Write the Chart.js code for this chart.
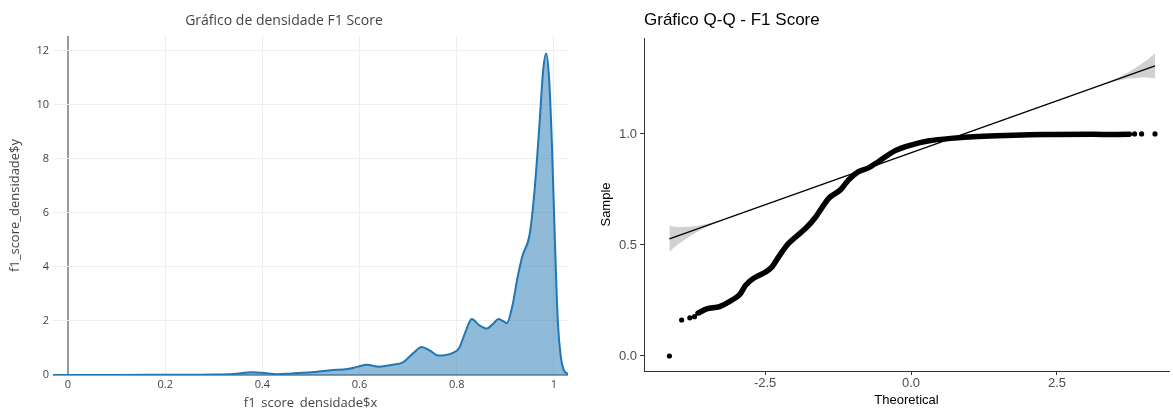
<!DOCTYPE html>
<html><head><meta charset="utf-8">
<script src="https://cdn.jsdelivr.net/npm/chart.js@4.4.1/dist/chart.umd.min.js"></script>
<style>
html,body{margin:0;padding:0;background:#fff;overflow:hidden;width:1173px;height:408px;}
#c1{position:absolute;left:0;top:0;}
#c2{position:absolute;left:590px;top:0;}
</style></head><body>
<canvas id="c1" width="578" height="420"></canvas>
<canvas id="c2" width="583" height="408"></canvas>
<script>
// ---- Left: density plot ----
const densTitle = 'Gráfico de densidade F1 Score';
const densXTitle = 'f1_score_densidade$x';
const densYTitle = 'f1_score_densidade$y';
const densX = [-0.0309, 0, 0.1, 0.2, 0.3, 0.34, 0.38, 0.40, 0.43, 0.46, 0.50, 0.54, 0.575, 0.595, 0.615, 0.64, 0.665, 0.69, 0.71, 0.728, 0.745, 0.762, 0.792, 0.805, 0.818, 0.831, 0.846, 0.862, 0.875, 0.886, 0.895, 0.903, 0.915, 0.925, 0.935, 0.95, 0.96, 0.97, 0.978, 0.984, 0.99, 0.996, 1.002, 1.008, 1.014, 1.02, 1.029];
const densY = [0.0, 0.0, 0.0, 0.01, 0.02, 0.04, 0.1, 0.08, 0.03, 0.06, 0.1, 0.18, 0.22, 0.3, 0.38, 0.31, 0.37, 0.48, 0.8, 1.04, 0.9, 0.72, 0.82, 1.0, 1.6, 2.07, 1.85, 1.72, 1.9, 2.07, 2.0, 1.92, 2.6, 3.6, 4.4, 5.2, 6.8, 9.2, 11.3, 11.9, 11.0, 8.5, 5.0, 2.0, 0.7, 0.2, 0.03];
const densXTicks = [0, 0.2, 0.4, 0.6, 0.8, 1];
const densYTicks = [0, 2, 4, 6, 8, 10, 12];

// ---- Right: Q-Q plot ----
const qqTitle = 'Gráfico Q-Q - F1 Score';
const qqXTitle = 'Theoretical';
const qqYTitle = 'Sample';
const qqT = [-3.65, -3.5, -3.28, -3.11, -2.94, -2.83, -2.69, -2.48, -2.38, -2.26, -2.09, -1.80, -1.63, -1.41, -1.21, -1.07, -0.90, -0.73, -0.56, -0.27, 0.0, 0.29, 0.68, 1.14, 2.28, 3.74];
const qqS = [0.193, 0.212, 0.222, 0.245, 0.275, 0.32, 0.351, 0.38, 0.402, 0.45, 0.509, 0.576, 0.627, 0.71, 0.748, 0.793, 0.83, 0.847, 0.875, 0.925, 0.95, 0.968, 0.98, 0.988, 0.997, 0.998];
const tailT = [-4.14, -3.93, -3.79, -3.71, 3.83, 3.95, 4.18];
const tailS = [0.0, 0.162, 0.172, 0.177, 1.0, 1.0, 1.0];
const refT = [-4.14, 4.18];
const refS = [0.5275, 1.3063];
const bandT  = [-4.14, -4.0, -3.85, -3.65, -3.4, -3.15, 3.2, 3.45, 3.7, 3.9, 4.05, 4.18];
const bandHi = [0.5865, 0.5806, 0.5816, 0.5864, 0.6008, 0.6202, 1.2145, 1.2419, 1.2743, 1.3070, 1.3341, 1.3633];
const bandLo = [0.4685, 0.5006, 0.5276, 0.5604, 0.5928, 0.6202, 1.2145, 1.2339, 1.2483, 1.2530, 1.2541, 1.2493];
const qqXTicks = [-2.5, 0, 2.5];
const qqYTicks = [0, 0.5, 1.0];

const pts = (xs, ys) => xs.map((x, i) => ({x, y: ys[i]}));

new Chart(document.getElementById('c1'), {
  type: 'line',
  data: { datasets: [{
    data: pts(densX, densY),
    borderColor: '#1f77b4', borderWidth: 2,
    backgroundColor: 'rgba(31,119,180,0.5)', fill: 'origin',
    pointRadius: 0, tension: 0.4, cubicInterpolationMode: 'monotone'
  }]},
  options: {
    responsive: false, animation: false, devicePixelRatio: 1,
    layout: { padding: { left: 0, right: 10, top: 0, bottom: 0 } },
    plugins: {
      legend: { display: false }, tooltip: { enabled: false },
      title: { display: true, text: densTitle, color: '#444',
        font: { family: 'Open Sans', size: 14, weight: 'normal' },
        padding: { top: 13, bottom: 6.2 } }
    },
    scales: {
      x: { type: 'linear', min: -0.0309, max: 1.029,
        afterFit: s => { s.height = 45; },
        afterBuildTicks: s => { s.ticks = densXTicks.map(v => ({ value: v })); },
        grid: { color: c => (c.tick && c.tick.value === 0) ? '#999' : '#eee',
                lineWidth: c => (c.tick && c.tick.value === 0) ? 2 : 1, drawTicks: false },
        border: { display: false },
        ticks: { color: '#444', font: { family: 'Open Sans', size: 11 }, padding: 3, maxRotation: 0,
                 callback: v => String(+(+v).toFixed(2)) },
        title: { display: true, text: densXTitle, color: '#444',
                 font: { family: 'Open Sans', size: 13 }, padding: { top: 0, bottom: 9 } }
      },
      y: { type: 'linear', min: 0, max: 12.55,
        afterFit: s => { s.width = 53; },
        afterBuildTicks: s => { s.ticks = densYTicks.map(v => ({ value: v })); },
        grid: { color: c => (c.tick && c.tick.value === 0) ? '#999' : '#eee',
                lineWidth: c => (c.tick && c.tick.value === 0) ? 2 : 1, drawTicks: false },
        border: { display: false },
        ticks: { color: '#444', font: { family: 'Open Sans', size: 11 }, padding: 4,
                 callback: v => String(+(+v).toFixed(2)) },
        title: { display: true, text: densYTitle, color: '#444',
                 font: { family: 'Open Sans', size: 13 }, padding: { top: 7, bottom: 0 } }
      }
    }
  }
});

const axisFont = { family: 'Liberation Sans', size: 13 };
new Chart(document.getElementById('c2'), {
  type: 'scatter',
  data: { datasets: [
    { type: 'line', data: pts(bandT, bandHi), fill: '+1', backgroundColor: 'rgba(153,153,153,0.45)',
      borderColor: 'transparent', borderWidth: 0, pointRadius: 0, tension: 0.3, order: 3 },
    { type: 'line', data: pts(bandT, bandLo), fill: false,
      borderColor: 'transparent', borderWidth: 0, pointRadius: 0, tension: 0.3, order: 3 },
    { type: 'line', data: pts(qqT, qqS), fill: false, borderColor: '#000', borderWidth: 5.5,
      borderCapStyle: 'round', borderJoinStyle: 'round', pointRadius: 0, tension: 0.3, order: 1 },
    { type: 'scatter', data: pts(tailT, tailS), backgroundColor: '#000', borderWidth: 0,
      pointRadius: 2.6, order: 1 },
    { type: 'line', data: pts(refT, refS), fill: false, borderColor: '#000', borderWidth: 1.3,
      pointRadius: 0, order: 0 }
  ]},
  options: {
    responsive: false, animation: false, devicePixelRatio: 1,
    layout: { padding: 0 },
    plugins: {
      legend: { display: false }, tooltip: { enabled: false },
      title: { display: true, text: qqTitle, align: 'start', fullSize: false, color: '#000',
        font: { family: 'Liberation Sans', size: 17, weight: 'normal' },
        padding: { top: 10, bottom: 7.6 } }
    },
    scales: {
      x: { type: 'linear', min: -4.575, max: 4.42,
        afterFit: s => { s.height = 37; },
        afterBuildTicks: s => { s.ticks = qqXTicks.map(v => ({ value: v })); },
        grid: { drawOnChartArea: false, drawTicks: true, tickLength: 4, color: '#333' },
        border: { display: true, color: '#333', width: 1 },
        ticks: { color: '#4d4d4d', font: axisFont, padding: 1, maxRotation: 0,
                 callback: v => (+v).toFixed(1) },
        title: { display: true, text: qqXTitle, color: '#000', font: axisFont,
                 padding: { top: 0, bottom: 0 } }
      },
      y: { type: 'linear', min: -0.0676, max: 1.432,
        afterFit: s => { s.width = 54; },
        afterBuildTicks: s => { s.ticks = qqYTicks.map(v => ({ value: v })); },
        grid: { drawOnChartArea: false, drawTicks: true, tickLength: 4, color: '#333' },
        border: { display: true, color: '#333', width: 1 },
        ticks: { color: '#4d4d4d', font: axisFont, padding: 3,
                 callback: v => (+v).toFixed(1) },
        title: { display: true, text: qqYTitle, color: '#000', font: axisFont,
                 padding: { top: 9, bottom: 0 } }
      }
    }
  }
});
</script>
</body></html>
